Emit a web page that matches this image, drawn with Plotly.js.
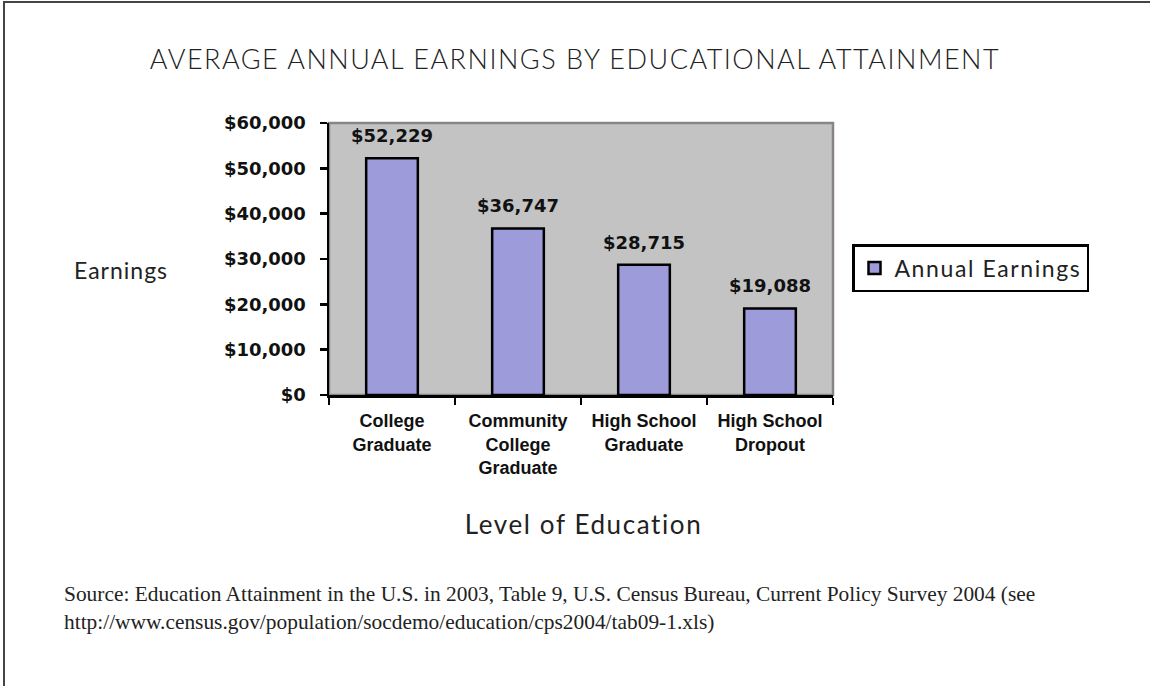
<!DOCTYPE html>
<html>
<head>
<meta charset="utf-8">
<script src="https://cdn.plot.ly/plotly-3.0.1.min.js"></script>
<style>
  html, body { margin: 0; padding: 0; background: #ffffff; }
  #wrap { position: relative; width: 1150px; height: 686px; }
  #chart { width: 1150px; height: 686px; }
  #frame { position: absolute; left: 3px; top: 1px; right: -10px; bottom: -10px;
           border-top: 2px solid #444; border-left: 2px solid #444; pointer-events: none; }
  .gtitle { letter-spacing: 1.5px; }
  .legendtext { letter-spacing: 1.6px; }
  .annotation[data-index="4"] text { letter-spacing: 1px; }
  .annotation[data-index="5"] text { letter-spacing: 1.6px; }
</style>
</head>
<body>
<div id="wrap">
  <div id="chart"></div>
  <div id="frame"></div>
</div>
<script>
const categories = ['College<br>Graduate', 'Community<br>College<br>Graduate', 'High School<br>Graduate', 'High School<br>Dropout'];
const earnings = [52229, 36747, 28715, 19088];
const seriesName = 'Annual Earnings';
const yTickVals = [0, 10000, 20000, 30000, 40000, 50000, 60000];
const titleText = 'AVERAGE ANNUAL EARNINGS BY EDUCATIONAL ATTAINMENT';
const yTitleText = 'Earnings';
const xTitleText = 'Level of Education';
const sourceText = 'Source: Education Attainment in the U.S. in 2003, Table 9, U.S. Census Bureau, Current Policy Survey 2004 (see<br>http://www.census.gov/population/socdemo/education/cps2004/tab09-1.xls)';

const fmt = v => '$' + v.toLocaleString('en-US');

const trace = {
  type: 'bar',
  x: categories,
  y: earnings,
  name: seriesName,
  marker: { color: '#9d9bd9', line: { color: '#000000', width: 2.5 } },
  hoverinfo: 'skip'
};

const labelAnnotations = categories.map((c, i) => ({
  x: c, y: earnings[i], xref: 'x', yref: 'y',
  text: fmt(earnings[i]), showarrow: false,
  yanchor: 'bottom', yshift: 10,
  font: { family: 'DejaVu Sans', size: 18, color: '#111', weight: 'bold' }
}));

const layout = {
  width: 1150, height: 686,
  margin: { l: 329, r: 317, t: 123, b: 291, pad: 0 },
  paper_bgcolor: '#ffffff',
  plot_bgcolor: '#c3c3c3',
  bargap: 0.59,
  showlegend: true,
  title: {
    text: titleText,
    x: 0.5, xref: 'container', xanchor: 'center',
    y: 1 - 60 / 686, yref: 'container', yanchor: 'middle',
    font: { family: 'Lato', size: 27, color: '#222', weight: 300 }
  },
  xaxis: {
    type: 'category',
    showline: true, linecolor: '#000', linewidth: 2.5,
    ticks: 'outside', tickson: 'boundaries', ticklen: 7, tickwidth: 2.5, tickcolor: '#000',
    ticklabelstandoff: 8,
    tickfont: { family: 'Liberation Sans', size: 18, color: '#111', weight: 'bold' },
    showgrid: false, zeroline: false, fixedrange: true
  },
  yaxis: {
    range: [0, 60000],
    tickmode: 'array',
    tickvals: yTickVals,
    ticktext: yTickVals.map(fmt),
    showline: true, linecolor: '#000', linewidth: 2.5,
    ticks: 'outside', ticklen: 7, tickwidth: 2.5, tickcolor: '#000',
    ticklabelstandoff: 10,
    tickfont: { family: 'DejaVu Sans', size: 18, color: '#111', weight: 'bold' },
    showgrid: false, zeroline: false, fixedrange: true
  },
  legend: {
    x: (852 - 329) / 504, xanchor: 'left',
    y: (395 - 244) / 272, yanchor: 'top',
    bgcolor: '#ffffff', bordercolor: '#000', borderwidth: 2.5,
    font: { family: 'Lato', size: 23, color: '#222' },
    itemwidth: 30
  },
  shapes: [{
    type: 'rect', xref: 'paper', yref: 'paper', x0: 0, x1: 1, y0: 0, y1: 1,
    line: { color: '#8a8585', width: 2.5 }, layer: 'below'
  }],
  annotations: labelAnnotations.concat([
    {
      text: yTitleText, showarrow: false, xref: 'paper', yref: 'paper',
      x: (121 - 329) / 504, y: (395 - 270) / 272, xanchor: 'center', yanchor: 'middle',
      font: { family: 'Lato', size: 23, color: '#222' }
    },
    {
      text: xTitleText, showarrow: false, xref: 'paper', yref: 'paper',
      x: (583 - 329) / 504, y: (395 - 524) / 272, xanchor: 'center', yanchor: 'middle',
      font: { family: 'Lato', size: 26, color: '#222' }
    },
    {
      text: sourceText, showarrow: false, xref: 'paper', yref: 'paper', align: 'left',
      x: (62 - 329) / 504, y: (395 - 580) / 272, xanchor: 'left', yanchor: 'top',
      font: { family: 'Liberation Serif', size: 21.4, color: '#222' }
    }
  ])
};

Plotly.newPlot('chart', [trace], layout, { displayModeBar: false, staticPlot: true });
</script>
</body>
</html>
